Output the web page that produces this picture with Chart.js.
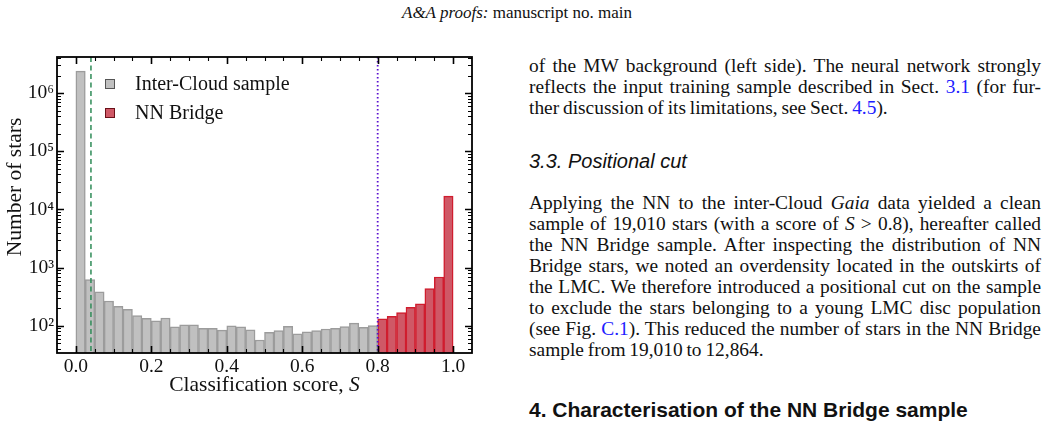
<!DOCTYPE html>
<html><head><meta charset="utf-8">
<script src="https://cdn.jsdelivr.net/npm/chart.js@4/dist/chart.umd.min.js"></script>
<style>
html,body{margin:0;padding:0;background:#fff;}
body{width:1049px;height:425px;position:relative;overflow:hidden;font-family:"Liberation Serif","Times New Roman",serif;color:#111;}
#hdr{position:absolute;top:3px;left:0;width:1034px;text-align:center;font-size:17px;line-height:20px;}
#chartBox{position:absolute;left:0;top:40px;width:490px;height:360px;}
.txt{position:absolute;left:529px;width:512px;font-size:19.4px;line-height:21px;word-spacing:-1px;}
.j{text-align:justify;text-align-last:justify;}
a{color:#2020ff;text-decoration:none;}
.h3{position:absolute;left:529px;font-family:"Liberation Sans",Arial,sans-serif;font-style:italic;font-size:20px;line-height:22px;}
.h2{position:absolute;left:529px;font-family:"Liberation Sans",Arial,sans-serif;font-weight:bold;font-size:21px;line-height:24px;}
</style></head>
<body>
<div id="hdr"><i>A&amp;A proofs:</i> manuscript no. main</div>
<div id="chartBox"><canvas id="c" width="490" height="360"></canvas></div>

<div class="txt" style="top:55px">
<div class="j">of the MW background (left side). The neural network strongly</div>
<div class="j">reflects the input training sample described in Sect. <a>3.1</a> (for fur-</div>
<div>ther discussion of its limitations, see Sect. <a>4.5</a>).</div>
</div>
<div class="h3" style="top:150px">3.3. Positional cut</div>
<div class="txt" style="top:192px">
<div class="j">Applying the NN to the inter-Cloud <i>Gaia</i> data yielded a clean</div>
<div class="j">sample of 19,010 stars (with a score of <i>S</i> &gt; 0.8), hereafter called</div>
<div class="j">the NN Bridge sample. After inspecting the distribution of NN</div>
<div class="j">Bridge stars, we noted an overdensity located in the outskirts of</div>
<div class="j">the LMC. We therefore introduced a positional cut on the sample</div>
<div class="j">to exclude the stars belonging to a young LMC disc population</div>
<div class="j">(see Fig. <a>C.1</a>). This reduced the number of stars in the NN Bridge</div>
<div>sample from 19,010 to 12,864.</div>
</div>
<div class="h2" style="top:398px">4. Characterisation of the NN Bridge sample</div>

<script>
const interCloudScores = [0.0125,0.0375,0.0625,0.0875,0.1125,0.1375,0.1625,0.1875,0.2125,0.2375,0.2625,0.2875,0.3125,0.3375,0.3625,0.3875,0.4125,0.4375,0.4625,0.4875,0.5125,0.5375,0.5625,0.5875,0.6125,0.6375,0.6625,0.6875,0.7125,0.7375,0.7625,0.7875];
const interCloudCounts = [2400000,621,385,267,215,191,149,134,122,136,96,104,104,90,90,84,100,96,85,57,77,83,98,73,79,83,88,90,97,111,94,101];
const nnBridgeScores = [0.8125,0.8375,0.8625,0.8875,0.9125,0.9375,0.9625,0.9875];
const nnBridgeCounts = [132,145,169,207,239,434,691,17000];
const seriesNames = ['Inter-Cloud sample','NN Bridge'];
const xTickValues = [0,0.2,0.4,0.6,0.8,1.0];
const xTickLabels = ['0.0','0.2','0.4','0.6','0.8','1.0'];
const yTickValues = [1e2,1e3,1e4,1e5,1e6];
const yTickLabels = ['10\u00B2','10\u00B3','10\u2074','10\u2075','10\u2076'];
const scoreCuts = [0.04, 0.8];
const xTitle = 'Classification score, ';
const xTitleVar = 'S';
const yTitle = 'Number of stars';

const SERIF = '"Liberation Serif","Times New Roman",serif';
const grayFill = '#c0c0c0', grayEdge = '#9c9c9c';
const redFill = '#cf5866', redEdge = '#d01d2e';

const framePlugin = {
  id: 'frame',
  afterDatasetsDraw(chart) {
    const {ctx, chartArea: a, scales: {x, y}} = chart;
    ctx.save();
    // cut lines
    ctx.lineWidth = 1.5;
    ctx.strokeStyle = '#2e8b57'; ctx.setLineDash([5, 3.5]);
    let px = x.getPixelForValue(scoreCuts[0]);
    ctx.beginPath(); ctx.moveTo(px, a.top); ctx.lineTo(px, a.bottom); ctx.stroke();
    ctx.lineWidth = 1.8;
    ctx.strokeStyle = '#5a10d0'; ctx.setLineDash([1.6, 2.4]);
    px = x.getPixelForValue(scoreCuts[1]);
    ctx.beginPath(); ctx.moveTo(px, a.top); ctx.lineTo(px, a.bottom); ctx.stroke();
    ctx.setLineDash([]);
    // ticks (inward, all sides)
    ctx.strokeStyle = '#000';
    for (let k = 0; k <= 20; k++) {
      const v = k * 0.05, major = k % 4 === 0, len = major ? 7 : 4;
      ctx.lineWidth = major ? 1.6 : 1.1;
      const p = Math.round(x.getPixelForValue(v)) + 0.5;
      ctx.beginPath();
      ctx.moveTo(p, a.bottom); ctx.lineTo(p, a.bottom - len);
      ctx.moveTo(p, a.top); ctx.lineTo(p, a.top + len);
      ctx.stroke();
    }
    for (let d = 1; d <= 6; d++) for (let m = 1; m <= 9; m++) {
      const v = m * Math.pow(10, d);
      if (v < y.min || v > y.max) continue;
      const major = m === 1, len = major ? 7 : 4;
      ctx.lineWidth = major ? 1.6 : 1.1;
      const p = Math.round(y.getPixelForValue(v)) + 0.5;
      ctx.beginPath();
      ctx.moveTo(a.left, p); ctx.lineTo(a.left + len, p);
      ctx.moveTo(a.right, p); ctx.lineTo(a.right - len, p);
      ctx.stroke();
    }
    ctx.lineWidth = 1.8;
    ctx.strokeRect(a.left, a.top, a.right - a.left, a.bottom - a.top);
    // legend
    ctx.font = '20px ' + SERIF;
    ctx.textBaseline = 'middle'; ctx.textAlign = 'left';
    const legendEdges = ['#555555', '#6a1018'];
    chart.data.datasets.forEach((ds, i) => {
      const cy = a.top + 27 + i * 29;
      ctx.fillStyle = ds.backgroundColor;
      ctx.fillRect(a.left + 48, cy - 5, 10, 10);
      ctx.lineWidth = 1; ctx.strokeStyle = legendEdges[i];
      ctx.strokeRect(a.left + 48.5, cy - 4.5, 9, 9);
      ctx.fillStyle = '#111';
      ctx.fillText(ds.label, a.left + 78, cy + 1);
    });
    // axis titles
    const tf = 21.5;
    ctx.font = tf + 'px ' + SERIF;
    const w1 = ctx.measureText(xTitle).width;
    ctx.font = 'italic ' + tf + 'px ' + SERIF;
    const w2 = ctx.measureText(xTitleVar).width;
    const x0 = (a.left + a.right) / 2 - (w1 + w2) / 2;
    ctx.font = tf + 'px ' + SERIF;
    ctx.fillText(xTitle, x0, 345);
    ctx.font = 'italic ' + tf + 'px ' + SERIF;
    ctx.fillText(xTitleVar, x0 + w1, 345);
    ctx.font = tf + 'px ' + SERIF;
    ctx.translate(15, 147);
    ctx.rotate(-Math.PI / 2);
    ctx.textAlign = 'center';
    ctx.fillText(yTitle, 0, 0);
    ctx.restore();
  }
};

new Chart(document.getElementById('c'), {
  type: 'bar',
  data: {
    datasets: [
      {label: seriesNames[0], data: interCloudScores.map((s, i) => ({x: s, y: interCloudCounts[i]})),
       backgroundColor: grayFill, borderColor: grayEdge, borderWidth: 1.5},
      {label: seriesNames[1], data: nnBridgeScores.map((s, i) => ({x: s, y: nnBridgeCounts[i]})),
       backgroundColor: redFill, borderColor: redEdge, borderWidth: 1.5}
    ]
  },
  options: {
    responsive: false, animation: false, devicePixelRatio: 1,
    grouped: false, barPercentage: 1, categoryPercentage: 1,
    layout: {padding: {left: 0, top: 17, right: 18, bottom: 0}},
    plugins: {legend: {display: false}, tooltip: {enabled: false}},
    scales: {
      x: {
        type: 'linear', min: -0.05, max: 1.05, offset: false,
        grid: {display: false, drawTicks: false},
        border: {display: false},
        afterBuildTicks: s => { s.ticks = xTickValues.map(v => ({value: v})); },
        afterFit: s => { s.height = 47; },
        ticks: {autoSkip: false, maxRotation: 0, padding: 2, color: '#111',
          font: {family: SERIF, size: 19.5},
          callback: (v, i) => xTickLabels[i]}
      },
      y: {
        type: 'logarithmic', min: 34, max: 4.2e6,
        grid: {display: false, drawTicks: false},
        border: {display: false},
        afterBuildTicks: s => { s.ticks = yTickValues.map(v => ({value: v})); },
        afterFit: s => { s.width = 57; },
        ticks: {autoSkip: false, padding: 3, color: '#111',
          font: {family: SERIF, size: 19.5},
          callback: (v, i) => yTickLabels[i]}
      }
    }
  },
  plugins: [framePlugin]
});
</script>
</body></html>
